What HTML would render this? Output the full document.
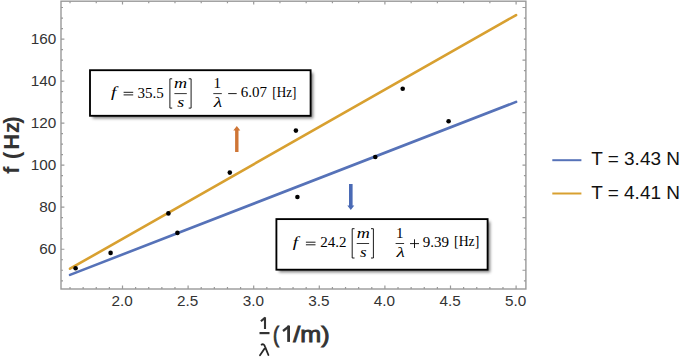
<!DOCTYPE html>
<html><head><meta charset="utf-8"><style>
html,body{margin:0;padding:0;background:#fff;width:680px;height:357px;overflow:hidden}
svg{display:block}
.tk{font-family:"Liberation Sans",sans-serif;font-size:15.3px;fill:#333333}
.al{font-family:"Liberation Sans",sans-serif;font-size:22px;font-weight:bold;fill:#333}
.alr{font-family:"Liberation Sans",sans-serif;font-size:22px;fill:#333;stroke:#333;stroke-width:0.9}
.fr{font-family:"Liberation Sans",sans-serif;font-size:15px;fill:#333;stroke:#333;stroke-width:0.5}
.fl{font-family:"Liberation Sans",sans-serif;font-size:16px;font-style:italic;fill:#333}
.lg{font-family:"Liberation Sans",sans-serif;font-size:19px;fill:#111}
.mi{font-family:"Liberation Serif",serif;font-size:15px;font-style:italic;fill:#000}
.mr{font-family:"Liberation Serif",serif;font-size:15px;fill:#000}
</style></head><body>
<svg width="680" height="357" viewBox="0 0 680 357">
<defs><filter id="sh" x="-10%" y="-10%" width="120%" height="130%"><feGaussianBlur stdDeviation="1.6"/></filter></defs>
<rect x="61" y="1.2" width="464.9" height="287.8" fill="none" stroke="#999999" stroke-width="1.4"/>
<path d="M70.02 289.0v-2.0 M83.14 289.0v-2.0 M96.26 289.0v-2.0 M109.38 289.0v-2.0 M122.50 289.0v-3.4 M135.62 289.0v-2.0 M148.74 289.0v-2.0 M161.86 289.0v-2.0 M174.98 289.0v-2.0 M188.10 289.0v-3.4 M201.22 289.0v-2.0 M214.34 289.0v-2.0 M227.46 289.0v-2.0 M240.58 289.0v-2.0 M253.70 289.0v-3.4 M266.82 289.0v-2.0 M279.94 289.0v-2.0 M293.06 289.0v-2.0 M306.18 289.0v-2.0 M319.30 289.0v-3.4 M332.42 289.0v-2.0 M345.54 289.0v-2.0 M358.66 289.0v-2.0 M371.78 289.0v-2.0 M384.90 289.0v-3.4 M398.02 289.0v-2.0 M411.14 289.0v-2.0 M424.26 289.0v-2.0 M437.38 289.0v-2.0 M450.50 289.0v-3.4 M463.62 289.0v-2.0 M476.74 289.0v-2.0 M489.86 289.0v-2.0 M502.98 289.0v-2.0 M516.10 289.0v-3.4 M70.02 1.2v2.0 M96.26 1.2v2.0 M122.50 1.2v3.4 M148.74 1.2v2.0 M174.98 1.2v2.0 M201.22 1.2v2.0 M227.46 1.2v2.0 M253.70 1.2v3.4 M279.94 1.2v2.0 M306.18 1.2v2.0 M332.42 1.2v2.0 M358.66 1.2v2.0 M384.90 1.2v3.4 M411.14 1.2v2.0 M437.38 1.2v2.0 M463.62 1.2v2.0 M489.86 1.2v2.0 M516.10 1.2v3.4 M61 280.78h2.0 M61 270.27h2.0 M61 259.76h2.0 M61 249.25h3.4 M61 238.74h2.0 M61 228.23h2.0 M61 217.72h2.0 M61 207.21h3.4 M61 196.70h2.0 M61 186.19h2.0 M61 175.68h2.0 M61 165.17h3.4 M61 154.66h2.0 M61 144.15h2.0 M61 133.64h2.0 M61 123.13h3.4 M61 112.62h2.0 M61 102.11h2.0 M61 91.60h2.0 M61 81.09h3.4 M61 70.58h2.0 M61 60.07h2.0 M61 49.56h2.0 M61 39.05h3.4 M61 28.54h2.0 M61 18.03h2.0 M61 7.52h2.0 M525.9 280.78h-2.0 M525.9 270.27h-3.4 M525.9 259.76h-2.0 M525.9 249.25h-2.0 M525.9 238.74h-2.0 M525.9 228.23h-2.0 M525.9 217.72h-3.4 M525.9 207.21h-2.0 M525.9 196.70h-2.0 M525.9 186.19h-2.0 M525.9 175.68h-2.0 M525.9 165.17h-3.4 M525.9 154.66h-2.0 M525.9 144.15h-2.0 M525.9 133.64h-2.0 M525.9 123.13h-2.0 M525.9 112.62h-3.4 M525.9 102.11h-2.0 M525.9 91.60h-2.0 M525.9 81.09h-2.0 M525.9 70.58h-2.0 M525.9 60.07h-3.4 M525.9 49.56h-2.0 M525.9 39.05h-2.0 M525.9 28.54h-2.0 M525.9 18.03h-2.0 M525.9 7.52h-3.4" stroke="#999999" stroke-width="1.2" fill="none"/>
<text x="56.3" y="254.15" text-anchor="end" class="tk">60</text>
<text x="56.3" y="212.11" text-anchor="end" class="tk">80</text>
<text x="56.3" y="170.07" text-anchor="end" class="tk">100</text>
<text x="56.3" y="128.03" text-anchor="end" class="tk">120</text>
<text x="56.3" y="85.99" text-anchor="end" class="tk">140</text>
<text x="56.3" y="43.95" text-anchor="end" class="tk">160</text>
<text x="122.10" y="306.2" text-anchor="middle" class="tk">2.0</text>
<text x="187.70" y="306.2" text-anchor="middle" class="tk">2.5</text>
<text x="253.30" y="306.2" text-anchor="middle" class="tk">3.0</text>
<text x="318.90" y="306.2" text-anchor="middle" class="tk">3.5</text>
<text x="384.50" y="306.2" text-anchor="middle" class="tk">4.0</text>
<text x="450.10" y="306.2" text-anchor="middle" class="tk">4.5</text>
<text x="515.70" y="306.2" text-anchor="middle" class="tk">5.0</text>
<line x1="70.02" y1="274.84" x2="516.10" y2="101.89" stroke="#5672B8" stroke-width="2.6" stroke-linecap="round"/>
<line x1="70.02" y1="268.74" x2="516.10" y2="15.02" stroke="#D8A030" stroke-width="2.6" stroke-linecap="round"/>
<circle cx="75.6" cy="268.3" r="2.3" fill="#000"/>
<circle cx="110.6" cy="252.9" r="2.3" fill="#000"/>
<circle cx="168.4" cy="213.4" r="2.3" fill="#000"/>
<circle cx="177.4" cy="232.9" r="2.3" fill="#000"/>
<circle cx="229.8" cy="172.6" r="2.3" fill="#000"/>
<circle cx="295.9" cy="130.6" r="2.3" fill="#000"/>
<circle cx="297.4" cy="197" r="2.3" fill="#000"/>
<circle cx="375.3" cy="157" r="2.3" fill="#000"/>
<circle cx="402.7" cy="88.8" r="2.3" fill="#000"/>
<circle cx="448.6" cy="121.3" r="2.3" fill="#000"/>
<path d="M235.1 152 V130.5 H233.3 L236.8 126 L240.3 130.5 H238.5 V152 Z" fill="#CF7535"/>
<path d="M349 184 V205.5 H347.3 L350.8 210 L354.3 205.5 H352.6 V184 Z" fill="#4A6AB5"/>
<rect x="92.6" y="72.8" width="220.6" height="45.6" fill="#000" opacity="0.5" filter="url(#sh)"/><rect x="90" y="70.2" width="220.6" height="45.6" fill="#fff" stroke="#000" stroke-width="1.85"/>
<rect x="279.0" y="221.7" width="211.2" height="50.6" fill="#000" opacity="0.5" filter="url(#sh)"/><rect x="276.4" y="219.1" width="211.2" height="50.6" fill="#fff" stroke="#000" stroke-width="1.85"/>
<path d="M123.6 92.3H133.2M123.6 94.9H133.2" stroke="#000" stroke-width="0.9"/><path d="M172.2 78.8H169.9V108.1H172.2" stroke="#000" stroke-width="0.9" fill="none"/><path d="M188.7 78.8H191.1V108.1H188.7" stroke="#000" stroke-width="0.9" fill="none"/><line x1="174.4" y1="93.6" x2="186.8" y2="93.6" stroke="#000" stroke-width="0.8"/><line x1="213.3" y1="93.6" x2="221.8" y2="93.6" stroke="#000" stroke-width="0.8"/><line x1="228.2" y1="93.6" x2="236.7" y2="93.6" stroke="#000" stroke-width="0.9"/>
<path d="M305.9 242.2H315.5M305.9 244.8H315.5" stroke="#000" stroke-width="0.9"/><path d="M354.5 228.7H352.20000000000005V258.0H354.5" stroke="#000" stroke-width="0.9" fill="none"/><path d="M371.0 228.7H373.4V258.0H371.0" stroke="#000" stroke-width="0.9" fill="none"/><line x1="356.70000000000005" y1="243.5" x2="369.1" y2="243.5" stroke="#000" stroke-width="0.8"/><line x1="395.6" y1="243.5" x2="404.1" y2="243.5" stroke="#000" stroke-width="0.8"/><path d="M410.0 243.6H419M414.5 239.3V248.0" stroke="#000" stroke-width="0.9"/>
<text class="al" transform="translate(18.6 173.8) rotate(-90)">f <tspan dx="1.4">(</tspan><tspan dx="2">H</tspan><tspan dx="0.8">z</tspan><tspan dx="-1.8">)</tspan></text>
<path d="M265 317.2V329.1M265.2 317.6L260.9 321.3" stroke="#333" stroke-width="2.1" fill="none"/>
<line x1="259.5" y1="333.1" x2="269.5" y2="333.1" stroke="#333" stroke-width="2.2"/>
<path d="M261.6 344.6Q263.9 343.4 265.0 346.6L268.4 355.0M264.6 348.6L260.0 355.3" stroke="#262626" stroke-width="1.8" fill="none" stroke-linecap="round"/>
<path d="M288.6 325.6V341.9" stroke="#333" stroke-width="2.8" fill="none"/><path d="M289.2 326.2L283.0 331" stroke="#333" stroke-width="2.3" fill="none"/>
<line x1="552.3" y1="160.2" x2="581.4" y2="160.2" stroke="#5672B8" stroke-width="2"/>
<line x1="552.3" y1="193.5" x2="581.4" y2="193.5" stroke="#D8A030" stroke-width="2"/>
<text id="uf" class="mi" x="111.00" y="96.95" textLength="5.30" lengthAdjust="spacingAndGlyphs">f</text>
<text id="unum" class="mr" x="137.50" y="97.70">35.5</text>
<text id="um" class="mi" x="173.90" y="88.25" textLength="13.11" lengthAdjust="spacingAndGlyphs">m</text>
<text id="us" class="mi" x="177.20" y="106.75" textLength="6.97" lengthAdjust="spacingAndGlyphs">s</text>
<text id="uone" class="mr" x="213.60" y="87.85">1</text>
<text id="ulam" class="mi" x="213.80" y="106.95" textLength="8.49" lengthAdjust="spacingAndGlyphs">λ</text>
<text id="uc" class="mr" x="240.80" y="96.95">6.07</text>
<text id="uhz" class="mr" x="272.30" y="96.95" textLength="24.03" lengthAdjust="spacingAndGlyphs">[Hz]</text>
<text id="lf" class="mi" x="292.80" y="247.35" textLength="5.30" lengthAdjust="spacingAndGlyphs">f</text>
<text id="lnum" class="mr" x="320.30" y="247.10">24.2</text>
<text id="lm" class="mi" x="356.70" y="237.65" textLength="13.11" lengthAdjust="spacingAndGlyphs">m</text>
<text id="ls" class="mi" x="360.00" y="257.15" textLength="6.58" lengthAdjust="spacingAndGlyphs">s</text>
<text id="lone" class="mr" x="395.90" y="238.25">1</text>
<text id="llam" class="mi" x="396.60" y="257.35" textLength="8.36" lengthAdjust="spacingAndGlyphs">λ</text>
<text id="lc" class="mr" x="422.85" y="247.35">9.39</text>
<text id="lhz" class="mr" x="454.10" y="246.35" textLength="25.17" lengthAdjust="spacingAndGlyphs">[Hz]</text>
<text id="xunit" class="alr" x="273.10" y="341.50" textLength="6.07" lengthAdjust="spacingAndGlyphs">(</text>
<text id="xunit2" class="alr" x="293.30" y="341.50" textLength="36.34" lengthAdjust="spacingAndGlyphs">/m)</text>
<text id="lg1" class="lg" x="591.15" y="165.40">T = 3.43 N</text>
<text id="lg2" class="lg" x="591.15" y="198.60">T = 4.41 N</text>
</svg>
</body></html>
